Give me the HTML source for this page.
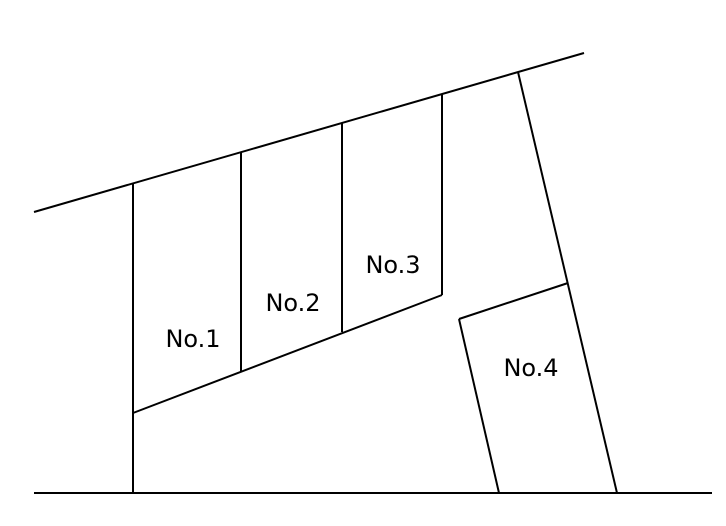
<!DOCTYPE html>
<html><head><style>body{margin:0;background:#fff}</style></head><body>
<svg width="726" height="526" xmlns="http://www.w3.org/2000/svg" style="display:block">
<g stroke="#000" stroke-width="2" fill="none">
<line x1="34" y1="212" x2="584" y2="53"/>
<line x1="34" y1="493" x2="712" y2="493"/>
<line x1="133" y1="183" x2="133" y2="493"/>
<line x1="241" y1="152" x2="241" y2="372"/>
<line x1="342" y1="123" x2="342" y2="332"/>
<line x1="442" y1="94" x2="442" y2="295"/>
<line x1="133" y1="413" x2="442" y2="295"/>
<line x1="518" y1="72" x2="617" y2="493"/>
<line x1="459" y1="319" x2="568" y2="283"/>
<line x1="459" y1="319" x2="499" y2="493"/>
</g>
<g font-family="DejaVu Sans, sans-serif" font-size="24" text-anchor="middle" fill="#000">
<text x="193" y="347">No.1</text>
<text x="293" y="311">No.2</text>
<text x="393" y="273">No.3</text>
<text x="531" y="376">No.4</text>
</g>
</svg>
</body></html>
